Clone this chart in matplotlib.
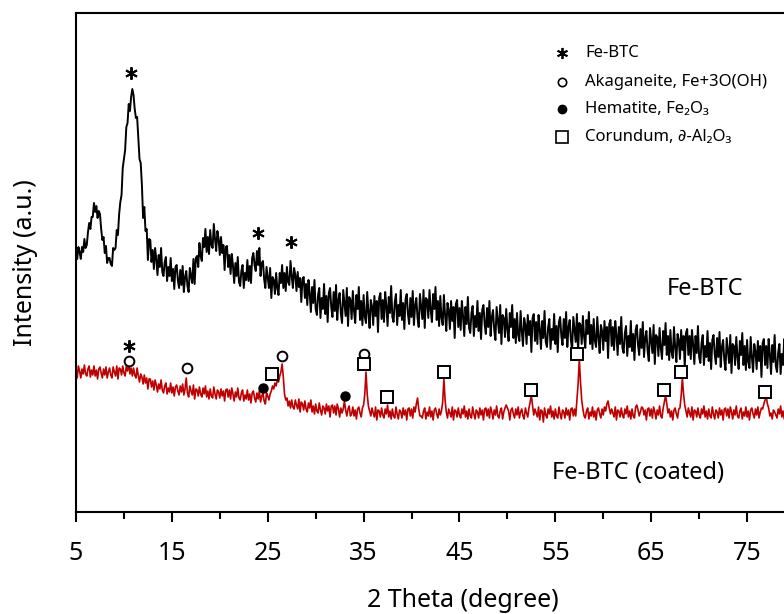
import numpy as np
import matplotlib
matplotlib.use("Agg")
import matplotlib.pyplot as plt
from matplotlib.ticker import FixedLocator

plt.rcParams['font.family'] = ['Noto Sans', 'DejaVu Sans']

# scan grid, 2 theta in degrees (0.125 deg step, 5..80)
two_theta = np.round(np.arange(5, 80.0001, 0.125), 3)

# Fe-BTC (black), intensity a.u. -- one row per degree
fe_btc = [
    262, 253, 265, 260, 253, 265, 260, 273,
    264, 267, 280, 289, 283, 295, 295, 309,
    300, 306, 294, 301, 298, 283, 272, 275,
    259, 266, 249, 254, 254, 248, 246, 264,
    262, 264, 282, 277, 298, 310, 317, 344,
    353, 362, 385, 389, 408, 401, 415, 423,
    417, 403, 394, 395, 374, 353, 349, 327,
    294, 305, 281, 283, 252, 273, 272, 250,
    262, 243, 264, 253, 237, 257, 245, 264,
    240, 236, 250, 255, 231, 245, 236, 254,
    231, 243, 223, 245, 247, 232, 224, 242,
    227, 246, 220, 235, 241, 226, 220, 244,
    236, 229, 253, 228, 254, 256, 245, 269,
    256, 251, 274, 265, 283, 260, 275, 258,
    282, 267, 264, 288, 273, 261, 281, 273,
    257, 275, 259, 267, 242, 265, 266, 245,
    257, 238, 258, 246, 229, 249, 236, 255,
    230, 226, 241, 247, 224, 239, 232, 252,
    231, 246, 229, 254, 259, 247, 241, 261,
    247, 264, 236, 249, 251, 233, 224, 245,
    234, 224, 244, 214, 235, 232, 218, 239,
    224, 217, 239, 229, 247, 224, 239, 221,
    245, 230, 227, 251, 236, 224, 244, 237,
    221, 240, 225, 234, 210, 233, 235, 214,
    228, 207, 232, 219, 200, 225, 209, 232,
    203, 197, 217, 224, 194, 214, 203, 228,
    198, 216, 190, 219, 224, 205, 195, 220,
    201, 227, 192, 212, 219, 199, 189, 222,
    209, 196, 224, 186, 215, 212, 193, 221,
    201, 189, 217, 203, 225, 192, 211, 187,
    217, 195, 189, 220, 200, 184, 212, 206,
    187, 216, 196, 211, 180, 214, 219, 193,
    212, 190, 220, 206, 186, 215, 199, 226,
    195, 190, 210, 218, 187, 207, 196, 222,
    192, 209, 183, 213, 218, 198, 188, 214,
    195, 221, 187, 207, 214, 194, 185, 218,
    205, 193, 222, 184, 214, 212, 194, 222,
    202, 190, 218, 203, 225, 192, 211, 186,
    216, 194, 187, 217, 197, 181, 209, 202,
    183, 211, 191, 205, 174, 208, 212, 185,
    204, 182, 211, 196, 176, 205, 188, 215,
    184, 179, 199, 206, 176, 196, 185, 211,
    181, 199, 173, 202, 207, 188, 178, 204,
    185, 211, 176, 195, 202, 182, 172, 205,
    192, 179, 207, 168, 197, 194, 175, 203,
    183, 171, 199, 185, 207, 174, 193, 169,
    199, 177, 171, 201, 181, 166, 194, 187,
    168, 197, 177, 191, 160, 194, 198, 171,
    190, 168, 197, 183, 163, 191, 174, 201,
    170, 165, 185, 193, 163, 183, 172, 198,
    168, 186, 160, 190, 195, 176, 167, 193,
    174, 200, 165, 185, 192, 172, 162, 195,
    182, 170, 198, 160, 189, 187, 168, 196,
    175, 164, 192, 178, 200, 168, 187, 163,
    193, 171, 165, 195, 175, 159, 187, 181,
    162, 191, 171, 185, 154, 188, 192, 166,
    185, 162, 191, 177, 157, 185, 168, 195,
    164, 159, 179, 186, 156, 176, 165, 191,
    161, 178, 152, 182, 187, 167, 157, 183,
    164, 190, 155, 174, 181, 161, 151, 184,
    171, 159, 187, 148, 177, 175, 156, 184,
    164, 153, 181, 167, 189, 157, 176, 152,
    182, 160, 154, 185, 165, 150, 178, 172,
    153, 182, 162, 176, 145, 179, 183, 157,
    176, 153, 182, 168, 148, 176, 159, 186,
    155, 149, 169, 177, 147, 166, 155, 181,
    151, 169, 143, 172, 177, 158, 148, 174,
    155, 180, 145, 165, 172, 152, 142, 174,
    161, 149, 177, 139, 168, 166, 147, 175,
    155, 143, 171, 157, 179, 147, 166, 142,
    172, 150, 144, 175, 155, 140, 168, 161,
    143, 171, 151, 166, 135, 169, 173, 147,
    166, 144, 173, 158, 138, 167, 150, 177,
    146, 140, 160, 168, 138, 158, 147, 173,
    143, 160, 134, 164, 169, 150, 140, 166,
    147,
]

# Fe-BTC coated (red), intensity a.u. -- one row per degree
fe_btc_coated = [
    143, 134, 146, 141, 134, 143, 138, 147,
    138, 136, 143, 146, 135, 142, 137, 146,
    136, 142, 133, 143, 145, 139, 134, 143,
    137, 145, 134, 140, 144, 137, 134, 145,
    140, 136, 146, 133, 144, 143, 137, 146,
    139, 136, 146, 141, 149, 138, 144, 136,
    144, 137, 134, 144, 136, 130, 138, 135,
    128, 137, 129, 134, 123, 133, 133, 125,
    131, 122, 132, 127, 120, 128, 123, 132,
    122, 119, 126, 129, 118, 124, 120, 129,
    119, 125, 116, 125, 127, 121, 117, 126,
    120, 128, 117, 123, 134, 119, 115, 126,
    121, 117, 127, 113, 123, 122, 116, 125,
    118, 115, 124, 118, 126, 115, 121, 113,
    123, 116, 114, 125, 118, 113, 122, 120,
    114, 123, 116, 121, 111, 122, 123, 115,
    122, 113, 124, 118, 111, 120, 115, 124,
    114, 112, 119, 122, 111, 117, 113, 122,
    112, 118, 109, 119, 121, 114, 110, 119,
    113, 121, 110, 116, 119, 111, 108, 119,
    116, 112, 118, 121, 126, 123, 129, 126,
    132, 130, 136, 140, 148, 135, 118, 112,
    114, 106, 111, 104, 112, 105, 103, 112,
    107, 103, 113, 100, 110, 108, 102, 111,
    103, 100, 109, 104, 112, 100, 106, 98,
    108, 101, 99, 109, 102, 97, 106, 104,
    98, 108, 101, 106, 95, 106, 107, 99,
    106, 97, 108, 103, 95, 104, 99, 103,
    111, 102, 96, 103, 106, 96, 98, 105,
    96, 102, 93, 103, 105, 99, 95, 104,
    107, 118, 140, 118, 106, 101, 96, 104,
    99, 95, 105, 92, 102, 101, 95, 104,
    97, 94, 103, 98, 107, 95, 101, 93,
    103, 96, 94, 105, 98, 93, 102, 100,
    94, 104, 97, 102, 92, 103, 104, 96,
    103, 94, 105, 100, 108, 114, 103, 96,
    96, 94, 101, 104, 93, 100, 96, 105,
    95, 101, 92, 102, 104, 98, 94, 103,
    97, 101, 110, 133, 112, 100, 94, 103,
    99, 95, 105, 92, 102, 101, 95, 104,
    97, 94, 103, 98, 106, 95, 101, 93,
    103, 96, 94, 105, 98, 93, 102, 100,
    94, 104, 97, 102, 92, 103, 104, 96,
    103, 94, 105, 100, 93, 102, 97, 106,
    96, 94, 101, 104, 93, 100, 104, 107,
    104, 101, 92, 102, 104, 98, 94, 103,
    97, 105, 94, 100, 103, 96, 93, 104,
    99, 95, 104, 110, 117, 106, 97, 103,
    99, 95, 105, 92, 102, 101, 90, 104,
    97, 94, 103, 98, 106, 95, 101, 93,
    103, 96, 94, 105, 98, 93, 102, 100,
    94, 104, 97, 102, 92, 103, 104, 96,
    103, 96, 112, 128, 153, 130, 112, 103,
    96, 94, 101, 104, 93, 100, 96, 105,
    95, 101, 92, 102, 104, 98, 94, 103,
    97, 105, 101, 108, 111, 104, 98, 103,
    99, 95, 105, 92, 102, 101, 95, 104,
    97, 94, 103, 98, 106, 95, 101, 93,
    103, 96, 94, 105, 107, 102, 96, 100,
    105, 104, 97, 102, 92, 103, 104, 96,
    103, 94, 105, 100, 93, 102, 97, 106,
    96, 94, 104, 110, 117, 108, 99, 103,
    95, 101, 92, 102, 104, 98, 94, 103,
    104, 116, 134, 118, 107, 101, 95, 104,
    99, 95, 105, 92, 102, 101, 95, 104,
    97, 94, 103, 98, 106, 95, 101, 93,
    103, 96, 94, 105, 98, 93, 102, 100,
    94, 104, 97, 102, 92, 103, 104, 96,
    103, 94, 105, 100, 93, 102, 97, 106,
    96, 94, 101, 104, 93, 100, 96, 105,
    95, 101, 92, 102, 104, 98, 94, 103,
    97, 105, 94, 100, 104, 103, 108, 112,
    115, 108, 104, 96, 99, 93, 102, 100,
    97, 94, 103, 98, 106, 95, 101, 93,
    103, 96, 94, 105, 98, 93, 102, 100,
    95,
]

# phase markers (2theta, height)
fe_btc_marks = [(10.73, 439), (23.98, 279), (27.4, 270), (10.55, 166)]
akaganeite_marks = [(10.5, 151), (16.57, 144), (26.5, 156), (35.0, 158)]
hematite_marks = [(24.5, 124), (33.05, 116)]
corundum_marks = [(25.44, 138), (35.0, 148), (37.4, 115), (43.4, 140), (52.45, 122),
                  (57.24, 158), (66.3, 122), (68.1, 140), (76.85, 120)]

legend_labels = ['Fe-BTC', 'Akaganeite, Fe+3O(OH)', 'Hematite, Fe₂O₃', 'Corundum, ∂-Al₂O₃']

fig = plt.figure(figsize=(7.84, 6.14), dpi=100)
ax = fig.add_axes([76 / 784, 102 / 614, 719 / 784, 499 / 614])

ax.plot(two_theta, fe_btc, color='black', lw=1.4)
ax.plot(two_theta, fe_btc_coated, color='#c00000', lw=1.2)

star = (6, 2, 0)
mx, my = zip(*fe_btc_marks)
ax.plot(mx, my, ls='none', marker=star, ms=9, mew=1.4, color='black')
mx, my = zip(*akaganeite_marks)
ax.plot(mx, my, ls='none', marker='o', ms=7, mew=1.4, mfc='white', mec='black')
mx, my = zip(*hematite_marks)
ax.plot(mx, my, ls='none', marker='o', ms=6.5, color='black')
mx, my = zip(*corundum_marks)
ax.plot(mx, my, ls='none', marker='s', ms=8, mew=1.4, mfc='white', mec='black')

# legend drawn by hand (symbol + text)
leg_styles = [dict(marker=star, ms=8, mew=1.3, color='black'),
              dict(marker='o', ms=6, mew=1.2, mfc='white', mec='black'),
              dict(marker='o', ms=6, color='black'),
              dict(marker='s', ms=8, mew=1.2, mfc='white', mec='black')]
leg_y = [53, 82, 109, 137]
for lab, st, yp in zip(legend_labels, leg_styles, leg_y):
    fy = 1 - yp / 614
    fig.lines.append(plt.Line2D([562 / 784], [fy], ls='none', transform=fig.transFigure, **st))
    fig.text(585 / 784, fy, lab, fontsize=12, va='center', ha='left')

ax.text(66.6, 223, 'Fe-BTC', fontsize=17, va='center', ha='left')
ax.text(54.7, 39, 'Fe-BTC (coated)', fontsize=17, va='center', ha='left')

ax.set_xlim(5, 80)
ax.set_ylim(0, 499)
ax.xaxis.set_major_locator(FixedLocator([5, 15, 25, 35, 45, 55, 65, 75]))
ax.xaxis.set_minor_locator(FixedLocator([10, 20, 30, 40, 50, 60, 70, 80]))
ax.set_yticks([])
ax.tick_params(axis='x', which='major', direction='out', length=7, width=1.5, labelsize=18, pad=14)
ax.tick_params(axis='x', which='minor', direction='out', length=5, width=1.5)
for s in ['left', 'bottom', 'top', 'right']:
    ax.spines[s].set_linewidth(1.5)

ax.set_ylabel('Intensity (a.u.)', fontsize=18)
ax.yaxis.set_label_coords(-0.053, 0.5)
ax.set_xlabel('2 Theta (degree)', fontsize=18)
ax.xaxis.set_label_coords(0.538, -0.152)

fig.savefig('out.png', dpi=100)
